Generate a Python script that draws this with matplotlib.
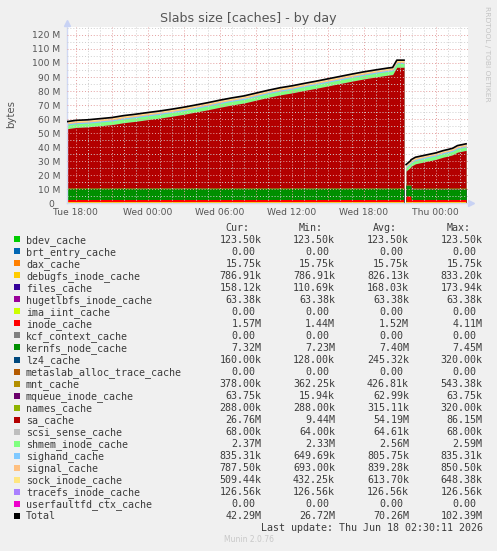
import matplotlib
matplotlib.use("Agg")
import matplotlib.pyplot as plt
import matplotlib.transforms as mtrans
import numpy as np
from matplotlib.patches import Rectangle

# ---- legend table, as munin prints it ----
names = ["bdev_cache", "brt_entry_cache", "dax_cache", "debugfs_inode_cache", "files_cache",
         "hugetlbfs_inode_cache", "ima_iint_cache", "inode_cache", "kcf_context_cache",
         "kernfs_node_cache", "lz4_cache", "metaslab_alloc_trace_cache", "mnt_cache",
         "mqueue_inode_cache", "names_cache", "sa_cache", "scsi_sense_cache",
         "shmem_inode_cache", "sighand_cache", "signal_cache", "sock_inode_cache",
         "tracefs_inode_cache", "userfaultfd_ctx_cache"]
colors = ["#00CC00", "#0066B3", "#FF8000", "#FFCC00", "#330099", "#990099", "#CCFF00",
          "#FF0000", "#808080", "#008F00", "#00487D", "#B35A00", "#B38F00", "#6B006B",
          "#8FB300", "#B30000", "#BEBEBE", "#80FF80", "#80C9FF", "#FFC080", "#FFE680",
          "#AA80FF", "#EE00CC"]
cur = ["123.50k", "0.00", "15.75k", "786.91k", "158.12k", "63.38k", "0.00", "1.57M", "0.00",
       "7.32M", "160.00k", "0.00", "378.00k", "63.75k", "288.00k", "26.76M", "68.00k",
       "2.37M", "835.31k", "787.50k", "509.44k", "126.56k", "0.00", "42.29M"]
mins = ["123.50k", "0.00", "15.75k", "786.91k", "110.69k", "63.38k", "0.00", "1.44M", "0.00",
        "7.23M", "128.00k", "0.00", "362.25k", "15.94k", "288.00k", "9.44M", "64.00k",
        "2.33M", "649.69k", "693.00k", "432.25k", "126.56k", "0.00", "26.72M"]
avgs = ["123.50k", "0.00", "15.75k", "826.13k", "168.03k", "63.38k", "0.00", "1.52M", "0.00",
        "7.40M", "245.32k", "0.00", "426.81k", "62.99k", "315.11k", "54.19M", "64.61k",
        "2.56M", "805.75k", "839.28k", "613.70k", "126.56k", "0.00", "70.26M"]
maxs = ["123.50k", "0.00", "15.75k", "833.20k", "173.94k", "63.38k", "0.00", "4.11M", "0.00",
        "7.45M", "320.00k", "0.00", "543.38k", "63.75k", "320.00k", "86.15M", "68.00k",
        "2.59M", "835.31k", "850.50k", "648.38k", "126.56k", "0.00", "102.39M"]

# ---- plotted series (M), hours after Tue 18:00 ----
# part before the gap
t1 = [-0.73, 0, 1, 2, 3, 4, 5, 6, 7, 8, 9, 10, 11, 12, 13, 14, 15, 16, 17, 18, 19, 20,
      21, 22, 23, 24, 25, 26, 26.4, 26.75, 27.35]
sa1 = [42.1, 43.0, 43.4, 44.2, 45.0, 46.4, 47.4, 48.4, 49.5, 50.8, 52.2, 53.8, 55.6, 57.4,
       59.0, 60.4, 62.4, 64.4, 66.2, 67.6, 69.1, 70.7, 72.4, 74.1, 75.8, 77.4, 78.8, 80.1,
       80.7, 85.9, 85.9]
lz4_1 = [0.13, 0.13, 0.13, 0.13, 0.13, 0.13, 0.13, 0.31, 0.31, 0.31, 0.31, 0.31, 0.13, 0.13,
         0.13, 0.13, 0.13, 0.13, 0.13, 0.13, 0.31, 0.31, 0.31, 0.31, 0.31, 0.31, 0.31, 0.31,
         0.13, 0.13, 0.13]
# steady layers before the gap (None = series above)
level1 = [0.12, 0, 0.016, 0.83, 0.17, 0.063, 0, 1.45, 0, 7.42, None, 0, 0.45, 0.064, 0.32,
          None, 0.065, 2.58, 0.82, 0.85, 0.64, 0.127, 0]

# part after the gap
t2 = [27.52, 27.9, 27.93, 28.3, 28.9, 29.5, 30.0, 30.6, 31.0, 31.4, 31.8, 32.52]
sa2 = [9.44, 12.2, 15.4, 17.2, 18.3, 19.4, 20.3, 21.9, 22.7, 23.6, 25.5, 26.76]
inode2 = [4.11, 4.11, 1.57, 1.57, 1.57, 1.57, 1.57, 1.57, 1.57, 1.57, 1.57, 1.57]
level2 = [0.12, 0, 0.016, 0.79, 0.16, 0.063, 0, None, 0, 7.32, 0.16, 0, 0.38, 0.064, 0.29,
          None, 0.068, 2.37, 0.83, 0.79, 0.51, 0.127, 0]

hour_ticks = [0, 6, 12, 18, 24, 30]
hour_labels = ["Tue 18:00", "Wed 00:00", "Wed 06:00", "Wed 12:00", "Wed 18:00", "Thu 00:00"]

W, H = 497, 551
fig = plt.figure(figsize=(W / 100, H / 100), dpi=100, facecolor="#F0F0F0")
ax = fig.add_axes([67 / W, (H - 203.3) / H, 401 / W, (203.3 - 26.5) / H])
ax.set_facecolor("white")


def layers(t, level, varying):
    out = []
    for i, lv in enumerate(level):
        if lv is None:
            out.append(np.asarray(varying[names[i]], dtype=float))
        else:
            out.append(np.full(len(t), lv))
    return out


for t, lay in [(t1, layers(t1, level1, {"sa_cache": sa1, "lz4_cache": lz4_1})),
               (t2, layers(t2, level2, {"sa_cache": sa2, "inode_cache": inode2}))]:
    tops = np.cumsum(lay, axis=0)
    # paint from the top layer down so no seams show
    for i in range(len(lay) - 1, -1, -1):
        if lay[i].max() <= 0:
            continue
        ax.fill_between(t, 0, tops[i], color=colors[i], lw=0, zorder=1)
    ax.plot(t, tops[-1], color="black", lw=1.2, zorder=3)

ax.set_xlim(-0.73, 32.68)
ax.set_ylim(0, 126)

ax.set_yticks(np.arange(0, 121, 10))
ax.set_yticklabels(["0"] + ["%d M" % v for v in range(10, 121, 10)])
ax.set_yticks(np.arange(5, 126, 10), minor=True)
ax.set_xticks(np.arange(0, 33, 3))
ax.set_xticklabels([hour_labels[hour_ticks.index(h)] if h in hour_ticks else "" for h in range(0, 33, 3)])
ax.set_xticks([h for h in range(0, 33) if h % 3], minor=True)
ax.tick_params(which="both", length=0, labelsize=6.6, colors="#555555")
ax.tick_params(axis="y", pad=5)
ax.tick_params(axis="x", pad=3.5)

# rrdtool leaves room for the unit after "0"
zero_lab = ax.get_yticklabels()[0]
zero_lab.set_transform(zero_lab.get_transform() +
                       mtrans.ScaledTranslation(-6 / 100, 0, fig.dpi_scale_trans))

dots = (0, (1, 2))
ax.grid(which="major", color="#E4A0A0", lw=0.7, ls=dots)
ax.grid(which="minor", color="#CFCFCF", lw=0.7, ls=dots)
ax.set_axisbelow(False)

for s in ["top", "right"]:
    ax.spines[s].set_visible(False)
for s in ["left", "bottom"]:
    ax.spines[s].set_color("#D0D8F4")
    ax.spines[s].set_linewidth(1.0)
ax.plot([-0.73], [128.5], marker="^", ms=4, color="#C8D2F4", clip_on=False)
ax.plot([32.95], [0], marker=">", ms=4, color="#C8D2F4", clip_on=False)

# ---- text drawn in pixel coordinates ----
ov = fig.add_axes([0, 0, 1, 1], facecolor="none")
ov.set_xlim(0, W)
ov.set_ylim(H, 0)
ov.axis("off")

ov.text(248.5, 22.3, "Slabs size [caches] - by day", ha="center", va="baseline",
        fontsize=9.1, color="#555555")
ov.text(11, 114, "bytes", rotation=90, ha="center", va="center", fontsize=7.3, color="#555555")
ov.text(487.5, 53.5, "RRDTOOL / TOBI OETIKER", rotation=270, ha="center", va="center",
        fontsize=5.4, color="#C4C4C4")

mono = "DejaVu Sans Mono"
tc = "#3C3C3C"
col_right = [261.7, 335.0, 409.0, 482.7]
for x, h in zip(col_right, ["Cur:", "Min:", "Avg:", "Max:"]):
    ov.text(x - 12.3, 230.7, h, ha="right", va="baseline", family=mono, fontsize=7.2, color=tc)

for i, name in enumerate(names + ["Total"]):
    base = 242.7 + 12.02 * i
    col = colors[i] if i < len(names) else "black"
    ov.add_patch(Rectangle((14, base - 6.4), 6, 6, facecolor=col, edgecolor="none"))
    ov.text(26, base, name, ha="left", va="baseline", family=mono, fontsize=7.2, color=tc)
    for x, vals in zip(col_right, [cur, mins, avgs, maxs]):
        v = vals[i]
        dx = 0 if v[-1] in "kM" else 6.0
        ov.text(x - dx, base, v, ha="right", va="baseline", family=mono, fontsize=7.2, color=tc)

ov.text(482.7, 531.0, "Last update: Thu Jun 18 02:30:11 2026", ha="right", va="baseline",
        family=mono, fontsize=7.2, color=tc)
ov.text(248.5, 542.5, "Munin 2.0.76", ha="center", va="baseline", fontsize=5.5, color="#C8C8C8")

fig.savefig("out.png", dpi=100, facecolor=fig.get_facecolor())
